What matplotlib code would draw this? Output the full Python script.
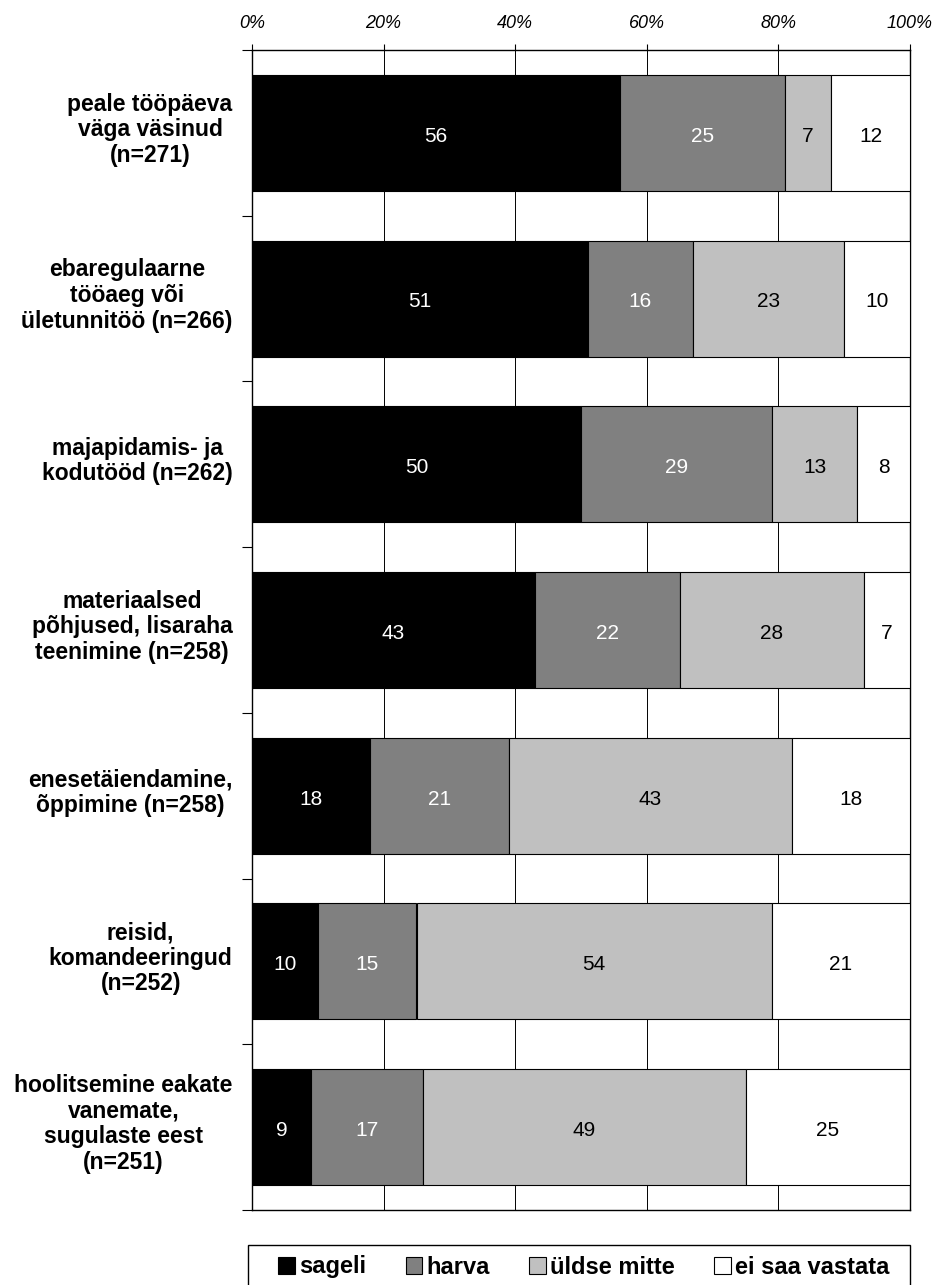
import matplotlib
matplotlib.use("Agg")
import matplotlib.pyplot as plt
import matplotlib.transforms as mtransforms
from matplotlib.patches import Rectangle
import numpy as np

plt.rcParams["font.family"] = ["Liberation Sans", "DejaVu Sans"]

# Shares (%) per answer for each reason
categories = [
    "peale tööpäeva\nväga väsinud\n(n=271)",
    "ebaregulaarne\ntööaeg või\nületunnitöö (n=266)",
    "majapidamis- ja\nkodutööd (n=262)",
    "materiaalsed\npõhjused, lisaraha\nteenimine (n=258)",
    "enesetäiendamine,\nõppimine (n=258)",
    "reisid,\nkomandeeringud\n(n=252)",
    "hoolitsemine eakate\nvanemate,\nsugulaste eest\n(n=251)",
]
sageli      = [56, 51, 50, 43, 18, 10, 9]
harva       = [25, 16, 29, 22, 21, 15, 17]
uldse_mitte = [7, 23, 13, 28, 43, 54, 49]
ei_saa      = [12, 10, 8, 7, 18, 21, 25]

series_names = ["sageli", "harva", "üldse mitte", "ei saa vastata"]
colours      = ["#000000", "#808080", "#C0C0C0", "#FFFFFF"]
text_colours = ["white", "white", "black", "black"]
x_ticks      = [0, 20, 40, 60, 80, 100]

W, H = 934, 1285
fig = plt.figure(figsize=(W / 100, H / 100), dpi=100)
ax = fig.add_axes([252 / W, 1 - 1210 / H, 658 / W, 1160 / H])

y = np.arange(len(categories))
left = np.zeros(len(categories))
for vals, name, col, tcol in zip([sageli, harva, uldse_mitte, ei_saa],
                                 series_names, colours, text_colours):
    vals = np.array(vals, dtype=float)
    bars = ax.barh(y, vals, left=left, height=0.7, color=col,
                   edgecolor="#000000", linewidth=0.8, label=name, zorder=3)
    for b, v in zip(bars, vals):
        ax.text(b.get_x() + b.get_width() / 2, b.get_y() + b.get_height() / 2 + 0.02,
                f"{v:.0f}", ha="center", va="center", fontsize=15,
                color=tcol, zorder=4)
    left += vals

ax.set_xlim(0, 100)
ax.set_ylim(len(categories) - 0.5, -0.5)

# percentage axis along the top
ax.xaxis.tick_top()
ax.set_xticks(x_ticks)
ax.set_xticklabels([f"{t}%" for t in x_ticks], fontstyle="italic", fontsize=13)
ax.tick_params(axis="x", which="major", length=4, width=0.8, pad=9)
ax.xaxis.grid(True, color="#000000", linewidth=0.7, zorder=0)
ax.set_axisbelow(True)

# category labels, with short ticks between the groups
ax.set_yticks(y)
ax.set_yticklabels(categories, fontsize=16.5, fontweight="bold",
                   multialignment="center", linespacing=1.15)
ax.set_yticks(np.arange(-0.5, len(categories)), minor=True)
ax.tick_params(axis="y", which="major", length=0, pad=14)
ax.tick_params(axis="y", which="minor", length=7, width=0.8)
lift = mtransforms.ScaledTranslation(0, 7 / 100, fig.dpi_scale_trans)
for lbl in ax.get_yticklabels():
    lbl.set_transform(lbl.get_transform() + lift)

for side in ("top", "bottom", "left", "right"):
    ax.spines[side].set_linewidth(1.0)
    ax.spines[side].set_color("#000000")

# legend box below the plot
fig.patches.append(Rectangle((248 / W, 1 - 1292 / H), 662 / W, 47 / H,
                             transform=fig.transFigure, facecolor="white",
                             edgecolor="#000000", linewidth=1.0))
leg = fig.legend(loc="center", bbox_to_anchor=(584 / W, 1 - 1267 / H),
                 ncol=4, frameon=False,
                 prop={"size": 17, "weight": "bold"},
                 handlelength=0.7, handleheight=0.7, handletextpad=0.2,
                 columnspacing=1.65)

fig.savefig("out.png", dpi=100)
